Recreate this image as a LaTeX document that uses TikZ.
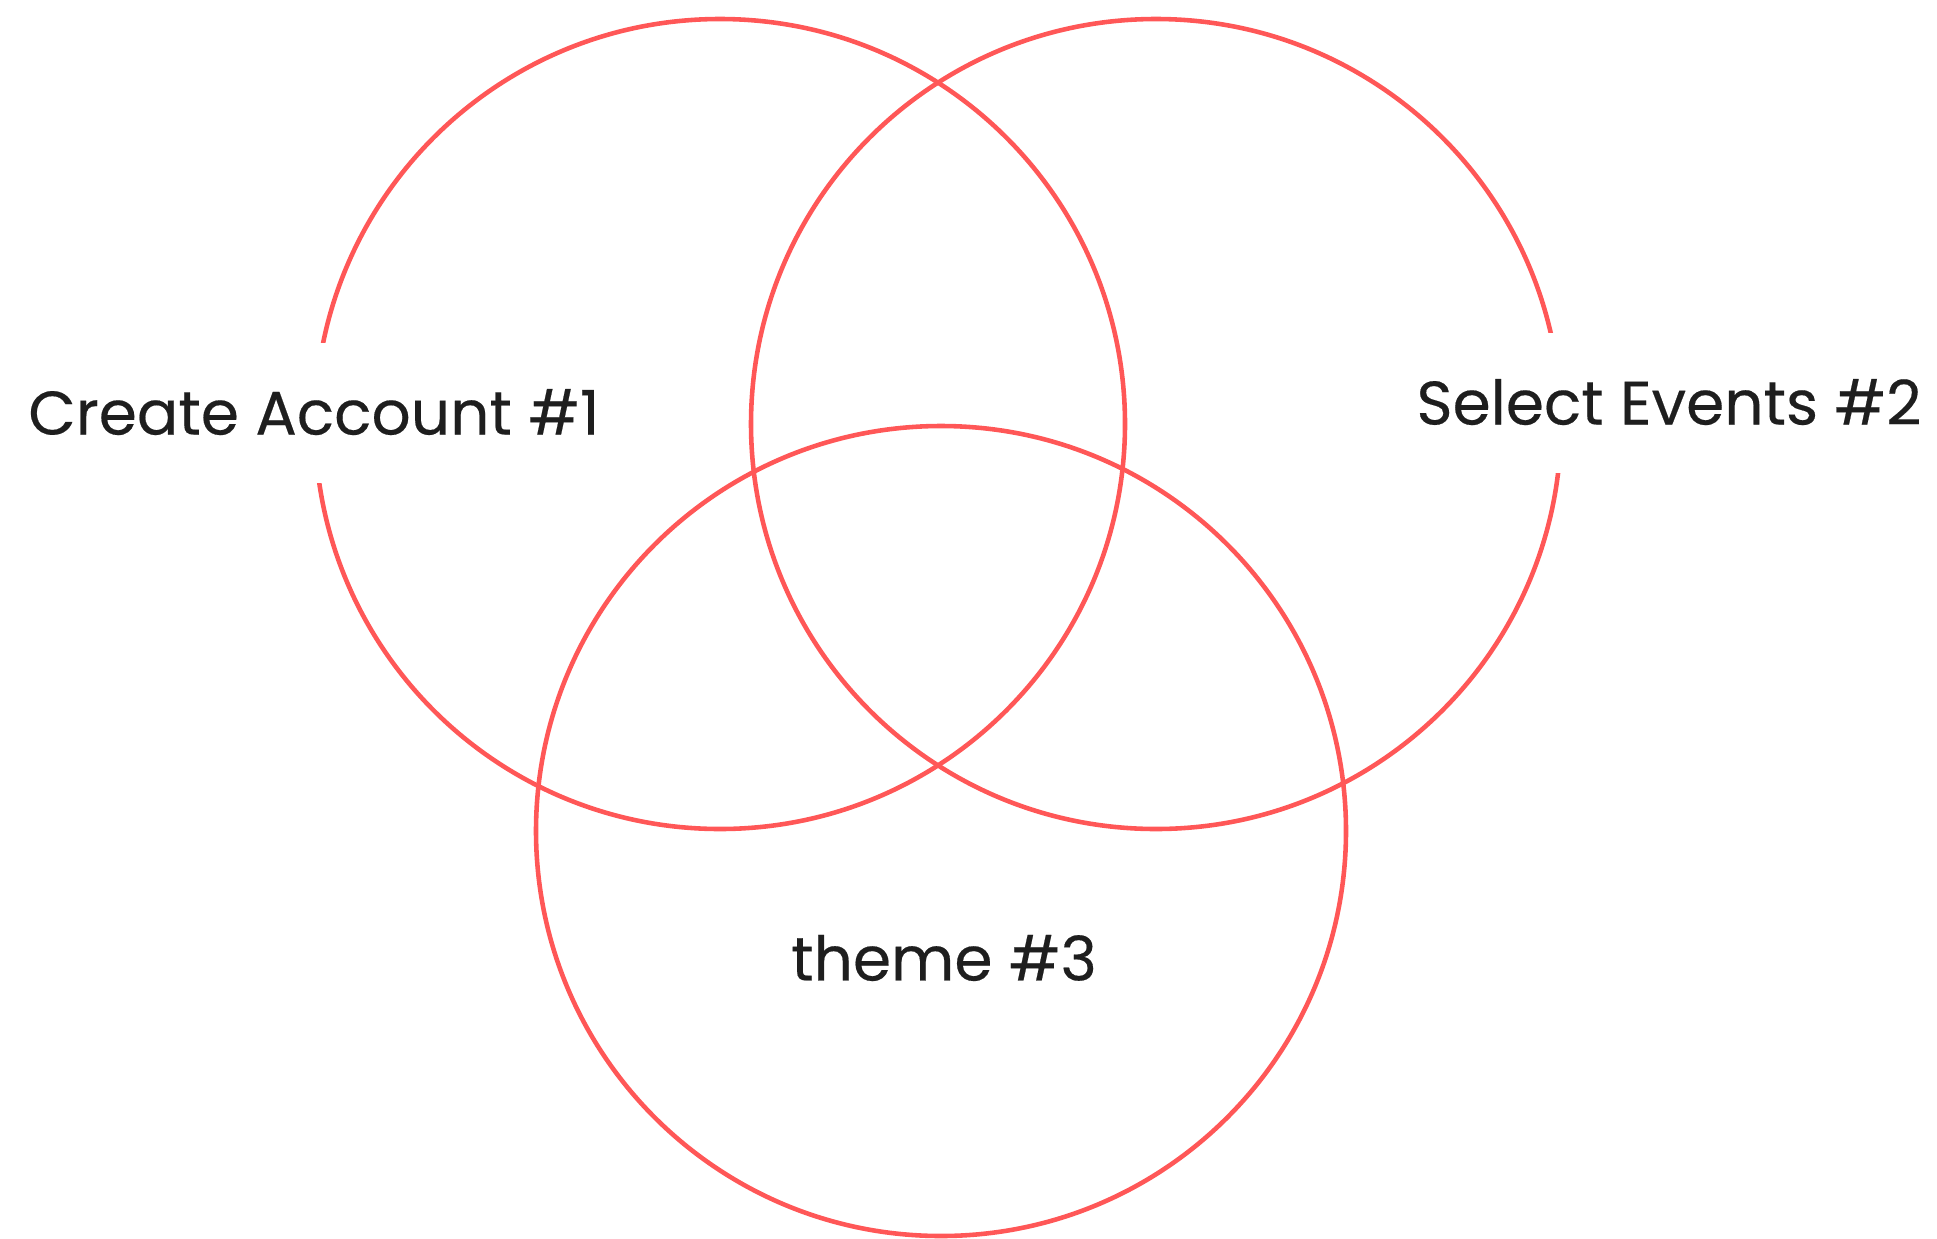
\documentclass[tikz,border=0pt]{standalone}
\usepackage{fontspec}
\setmainfont{Poppins}[FakeBold=0.3]
\usepackage{tikz}
\definecolor{vennred}{RGB}{255,87,87}
\definecolor{labelgray}{RGB}{30,30,30}
\tikzset{
  ring/.style={draw=vennred, line width=2.6pt},
  tag/.style={fill=white, text=labelgray, font=\fontsize{35}{40}\selectfont,
    text height=24.5pt, text depth=0pt, inner xsep=0pt, minimum height=2.8cm}
}

\begin{document}
\begin{tikzpicture}[x=0.02cm, y=-0.02cm]
    \useasboundingbox (0,0) rectangle (1937,1238);

    % the three circles
    \draw[ring] (720,424) circle (405);  % create account
    \draw[ring] (1156,424) circle (405); % select events
    \draw[ring] (941,831) circle (405);  % theme

    % labels, white boxes cut the rings
    \node[tag] (account) at (314,413) {Create Account \#1};
    \node[tag] (events) at (1669,403) {Select Events \#2};
    \node[text=labelgray, font=\fontsize{35}{40}\selectfont] (theme) at (944,958) {theme \#3};
\end{tikzpicture}
\end{document}
